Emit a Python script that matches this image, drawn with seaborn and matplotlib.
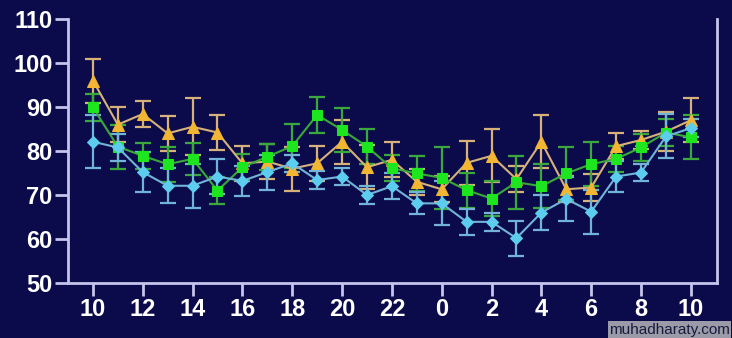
import numpy as np
import pandas as pd
import matplotlib
matplotlib.use("Agg")
import matplotlib.pyplot as plt
import seaborn as sns

hours = [10, 11, 12, 13, 14, 15, 16, 17, 18, 19, 20, 21, 22, 23, 0, 1, 2, 3, 4, 5, 6, 7, 8, 9, 10]
tick_labels = ["10", "12", "14", "16", "18", "20", "22", "0", "2", "4", "6", "8", "10"]
yticks = [50, 60, 70, 80, 90, 100, 110]

orange = [96, 86, 88.4, 84, 85.5, 84.2, 77.2, 77.6, 76, 77.2, 82.1, 76.3, 78, 73, 71.3, 77.3, 78.9, 73.6, 82.1, 71.3, 71.7, 81.1, 82.5, 84.4, 87]
orange_err = [5, 4, 3, 4, 6.5, 4, 4, 4, 5, 4, 5, 5, 4, 3, 3, 5, 6, 3, 6, 3, 3, 3, 2, 4.5, 5]
green = [89.9, 81, 78.9, 77, 78.2, 71, 76.3, 78.7, 81.1, 88.2, 84.8, 81, 76.1, 74.9, 73.9, 71.1, 69.2, 72.9, 72, 74.9, 77, 78.2, 80.8, 84.2, 83.1]
green_err = [3, 5, 3, 4, 3.7, 3, 3, 3, 5, 4, 5, 4, 3, 4, 7, 4, 4, 6, 5, 6, 5, 3, 3, 3, 5]
cyan = [82.1, 80.8, 75.2, 72.1, 72.1, 74.2, 73.2, 75.2, 77.2, 73.4, 74.2, 70, 72, 68.1, 68.1, 63.9, 63.9, 60.2, 66, 69.1, 66.2, 74.2, 75.1, 83.3, 85.2]
cyan_err = [6, 3, 4.5, 4, 5, 4, 3.5, 4, 2, 2, 2, 2, 3, 2.5, 5, 3, 2, 4, 4, 5, 5, 3.5, 2, 5, 2]

bg = "#0b0b4b"
axis_col = "#c4c4ec"

sns.set_theme(style="white")
plt.rcParams["font.family"] = ["Liberation Sans", "DejaVu Sans"]

fig = plt.figure(figsize=(7.32, 3.38), dpi=100, facecolor=bg)
ax = fig.add_axes([0.0929, 0.1627, 0.8866, 0.7811])
ax.set_facecolor(bg)

idx = np.arange(len(hours))
series = [
    ("orange", orange, orange_err, "#f2b632", "#d6b27a", "^", 8.5),
    ("green", green, green_err, "#1ee61e", "#3aa83a", "s", 7.5),
    ("cyan", cyan, cyan_err, "#5ccdee", "#72b4d8", "D", 6),
]

for name, vals, errs, col, ecol, mk, ms in series:
    ax.errorbar(idx, vals, yerr=errs, fmt="none", ecolor=ecol, elinewidth=1.6,
                capsize=6, capthick=1.6, zorder=2)

for name, vals, errs, col, ecol, mk, ms in series:
    df = pd.DataFrame({"x": idx, "y": vals})
    sns.lineplot(data=df, x="x", y="y", ax=ax, color=ecol, linewidth=1.5,
                 marker=mk, markersize=ms, markerfacecolor=col,
                 markeredgecolor=col, zorder=3)

ax.set_xlim(-1.0, 25.05)
ax.set_ylim(50, 110)
ax.set_xticks(idx[::2])
ax.set_xticklabels(tick_labels)
ax.set_yticks(yticks)
ax.set_xlabel("")
ax.set_ylabel("")

for s in ["left", "bottom", "right"]:
    ax.spines[s].set_visible(True)
    ax.spines[s].set_color(axis_col)
    ax.spines[s].set_linewidth(2)
ax.spines["top"].set_visible(False)

ax.tick_params(axis="both", which="major", direction="out", color=axis_col,
               width=2, length=9.5, labelcolor="white", labelsize=17,
               left=True, bottom=True)
ax.tick_params(axis="y", pad=1.5)
ax.tick_params(axis="x", pad=1.5)
for lab in ax.get_xticklabels() + ax.get_yticklabels():
    lab.set_fontweight("bold")

fig.text(0.997, 0.004, "muhadharaty.com", ha="right", va="bottom", fontsize=11,
         color="#1a1a3a",
         bbox=dict(boxstyle="square,pad=0.08", facecolor="#9a9aa8", edgecolor="none"))

fig.savefig("out.png", dpi=100, facecolor=bg)
